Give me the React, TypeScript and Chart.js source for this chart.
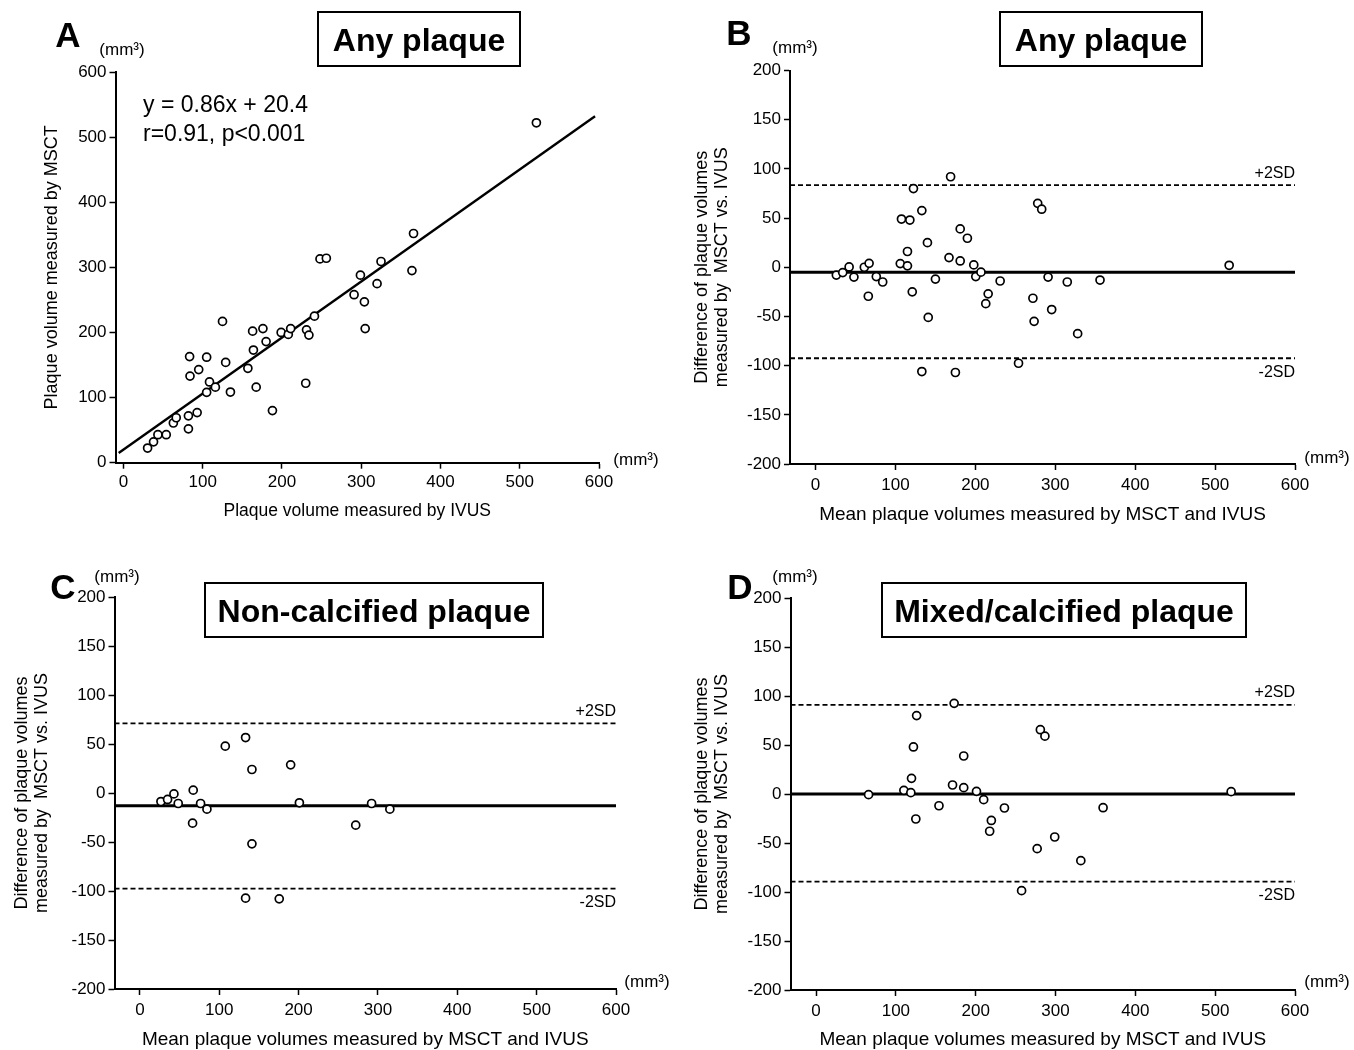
import React, { useEffect, useRef } from "react";
import { Chart, registerables } from "chart.js";

Chart.register(...registerables);

const FAMILY = '"Liberation Sans", Arial, Helvetica, sans-serif';

// ---------- Panel A: MSCT vs IVUS (any plaque) ----------
const ivusA = [30.5, 38, 43.5, 54, 63, 66.6, 82, 82, 84, 83.5, 93, 95, 105, 105, 108.6, 116, 125, 129, 135, 157, 163, 164, 167.5, 176, 180, 188, 199, 208, 211, 230, 231, 234, 241, 248, 256, 291, 299, 304, 305, 320, 325, 364, 366, 521];
const msctA = [22.5, 32, 43, 43, 61, 69, 72, 52, 133, 163, 77, 143, 162, 108, 124, 116, 217, 154, 108.5, 145, 202, 173, 116, 206, 186, 80, 200, 197, 206, 122, 204, 196, 225, 313, 314, 258, 288, 247, 206, 275, 309, 295, 352, 522];
const regressionX = [-6, 595];
const regressionY = [15, 532];
const equationLines = ["y = 0.86x + 20.4", "r=0.91, p<0.001"];

// ---------- Panel B: Bland-Altman, any plaque ----------
const meanB = [26, 34, 42, 48, 61, 67, 66, 76, 84, 106, 107.5, 115, 115, 118, 122.5, 121, 133, 133, 140, 141, 150, 167, 169, 175, 181, 181, 190, 198, 200.5, 207, 216, 213, 231, 254, 272, 273.5, 278, 283, 291, 295.5, 315, 328, 356, 517.6];
const diffB = [-8, -5.4, 0.3, -10, 0, 4, -29.5, -9.5, -15, 3.7, 49, 1.4, 16, 48, 80, -25, 57.6, -106, 25, -51, -12, 9.8, 92, -107, 39, 6.4, 29.5, 2.4, -9.5, -5, -27, -37, -14, -97.6, -31.5, -55, 65, 59, -10, -43, -15, -67.5, -13, 2];
const limitsB = [-5, 83.5, -92.5]; // bias, +2SD, -2SD

// ---------- Panel C: Bland-Altman, non-calcified ----------
const meanC = [26.5, 34.9, 42.9, 48.3, 67.2, 66.4, 76.5, 84.5, 107.6, 133.2, 141.2, 141.2, 133.2, 175.6, 190, 201, 272, 292, 315];
const diffC = [-8.7, -6.6, -0.9, -10.7, 2.9, -30.8, -10.7, -16.5, 47.8, 56.6, 24, -51.9, -107.3, -108, 28.7, -10, -32.8, -10.7, -16.5];
const limitsC = [-13, 71, -97.5];

// ---------- Panel D: Bland-Altman, mixed/calcified ----------
const meanD = [65.8, 110, 118.75, 119.6, 122, 126, 125, 154, 171, 173, 185, 185, 201, 210, 219.6, 217.5, 236, 257.5, 277, 281, 286.7, 299, 331.7, 359.6, 520];
const diffD = [-0.7, 3.7, 1.4, 16, 48, 80, -25.5, -12, 9.2, 92.5, 38.8, 6.5, 2.7, -5.8, -27, -38, -14.3, -98.6, -55.8, 65.6, 59, -43.9, -68, -14, 2.4];
const limitsD = [0, 91, -89.5];

// ---------- Axes ----------
const xTicks = [0, 100, 200, 300, 400, 500, 600];
const yTicksA = [0, 100, 200, 300, 400, 500, 600];
const yTicksDiff = [-200, -150, -100, -50, 0, 50, 100, 150, 200];
const baXRange = [-32, 600];
const baYRange = [-200, 200];
const aXRange = [-10, 600];
const aYRange = [0, 600];
const unitLabel = "(mm³)";

type Box = { x: number; y: number; w: number; h: number };
interface PanelCfg {
  id: string;
  left: number;
  top: number;
  w: number;
  h: number;
  padTop: number;
  padRight: number;
  yWidth: number;
  xHeight: number;
  xRange: number[];
  yRange: number[];
  yTicks: number[];
  xTitle: string;
  xTitleSize: number;
  yTitle: string | string[];
  yTitlePad: number;
  xTitlePad: number;
  xTickPad: number;
  datasets: any[];
  letter: string;
  letterPos: [number, number];
  unitPos: [number, number];
  title: string;
  box: Box;
  axisUnitPos: [number, number];
  limits?: number[];
  equation?: string[];
  eqPos?: [number, number];
}

const pointsDataset = (xs: number[], ys: number[]) => ({
  type: "scatter",
  data: xs.map((x, i) => ({ x, y: ys[i] })),
  pointRadius: 4,
  pointHoverRadius: 4,
  pointBorderWidth: 1.7,
  pointBorderColor: "#000",
  pointBackgroundColor: "#fff",
  showLine: false,
  order: 0,
  clip: false,
});

const lineDataset = (xs: number[], ys: number[], width: number, dash: number[]) => ({
  type: "scatter",
  data: xs.map((x, i) => ({ x, y: ys[i] })),
  showLine: true,
  borderColor: "#000",
  borderWidth: width,
  borderDash: dash,
  pointRadius: 0,
  pointHoverRadius: 0,
  tension: 0,
  order: 1,
  clip: false,
});

const baDatasets = (xs: number[], ys: number[], limits: number[]) => [
  pointsDataset(xs, ys),
  lineDataset(baXRange, [limits[0], limits[0]], 3, []),
  lineDataset(baXRange, [limits[1], limits[1]], 1.8, [5, 3]),
  lineDataset(baXRange, [limits[2], limits[2]], 1.8, [5, 3]),
];

const diffTitle = ["Difference of plaque volumes", "measured by  MSCT vs. IVUS"];
const meanTitle = "Mean plaque volumes measured by MSCT and IVUS";

const panels: PanelCfg[] = [
  {
    id: "A",
    left: 0,
    top: 0,
    w: 677,
    h: 525,
    padTop: 72,
    padRight: 78,
    yWidth: 115.5,
    xHeight: 62.3,
    xRange: aXRange,
    yRange: aYRange,
    yTicks: yTicksA,
    xTitle: "Plaque volume measured by IVUS",
    xTitleSize: 17.5,
    yTitle: "Plaque volume measured by MSCT",
    yTitlePad: 42,
    xTitlePad: 4,
    xTickPad: 3,
    datasets: [pointsDataset(ivusA, msctA), lineDataset(regressionX, regressionY, 2.4, [])],
    letter: "A",
    letterPos: [68, 37],
    unitPos: [122, 50],
    title: "Any plaque",
    box: { x: 318, y: 12, w: 202, h: 54 },
    axisUnitPos: [636, 460],
    equation: equationLines,
    eqPos: [143, 112],
  },
  {
    id: "B",
    left: 677,
    top: 0,
    w: 677,
    h: 525,
    padTop: 70.5,
    padRight: 59,
    yWidth: 113,
    xHeight: 61,
    xRange: baXRange,
    yRange: baYRange,
    yTicks: yTicksDiff,
    xTitle: meanTitle,
    xTitleSize: 19,
    yTitle: diffTitle,
    yTitlePad: 15,
    xTitlePad: 0,
    xTickPad: 5,
    datasets: baDatasets(meanB, diffB, limitsB),
    letter: "B",
    letterPos: [62, 35],
    unitPos: [118, 48],
    title: "Any plaque",
    box: { x: 323, y: 12, w: 202, h: 54 },
    axisUnitPos: [650, 458],
    limits: limitsB,
  },
  {
    id: "C",
    left: 0,
    top: 525,
    w: 677,
    h: 525,
    padTop: 72,
    padRight: 61,
    yWidth: 114.5,
    xHeight: 61,
    xRange: baXRange,
    yRange: baYRange,
    yTicks: yTicksDiff,
    xTitle: meanTitle,
    xTitleSize: 19,
    yTitle: diffTitle,
    yTitlePad: 12,
    xTitlePad: 0,
    xTickPad: 5,
    datasets: baDatasets(meanC, diffC, limitsC),
    letter: "C",
    letterPos: [63, 64],
    unitPos: [117, 52],
    title: "Non-calcified plaque",
    box: { x: 205, y: 58, w: 338, h: 54 },
    axisUnitPos: [647, 457],
    limits: limitsC,
  },
  {
    id: "D",
    left: 677,
    top: 525,
    w: 677,
    h: 525,
    padTop: 73,
    padRight: 59,
    yWidth: 113.5,
    xHeight: 60,
    xRange: baXRange,
    yRange: baYRange,
    yTicks: yTicksDiff,
    xTitle: meanTitle,
    xTitleSize: 19,
    yTitle: diffTitle,
    yTitlePad: 15,
    xTitlePad: 0,
    xTickPad: 5,
    datasets: baDatasets(meanD, diffD, limitsD),
    letter: "D",
    letterPos: [63, 64],
    unitPos: [118, 52],
    title: "Mixed/calcified plaque",
    box: { x: 205, y: 58, w: 364, h: 54 },
    axisUnitPos: [650, 457],
    limits: limitsD,
  },
];

const makeDecor = (cfg: PanelCfg) => ({
  id: "decor" + cfg.id,
  afterDraw(chart: any) {
    const ctx: CanvasRenderingContext2D = chart.ctx;
    ctx.save();
    ctx.fillStyle = "#000";
    ctx.strokeStyle = "#000";
    // panel letter
    ctx.font = `bold 35px ${FAMILY}`;
    ctx.textAlign = "center";
    ctx.textBaseline = "middle";
    ctx.fillText(cfg.letter, cfg.letterPos[0], cfg.letterPos[1]);
    // units
    ctx.font = `17px ${FAMILY}`;
    ctx.fillText(unitLabel, cfg.unitPos[0], cfg.unitPos[1]);
    ctx.fillText(unitLabel, cfg.axisUnitPos[0], cfg.axisUnitPos[1]);
    // title box
    const b = cfg.box;
    ctx.lineWidth = 2;
    ctx.strokeRect(b.x, b.y, b.w, b.h);
    ctx.font = `bold 32px ${FAMILY}`;
    ctx.textBaseline = "alphabetic";
    ctx.fillText(cfg.title, b.x + b.w / 2, b.y + 38.5);
    // SD labels
    if (cfg.limits) {
      const ys = chart.scales.y;
      const right = chart.chartArea.right;
      ctx.font = `16px ${FAMILY}`;
      ctx.textAlign = "right";
      ctx.textBaseline = "middle";
      ctx.fillText("+2SD", right, ys.getPixelForValue(cfg.limits[1]) - 12);
      ctx.fillText("-2SD", right, ys.getPixelForValue(cfg.limits[2]) + 14);
    }
    // regression equation
    if (cfg.equation && cfg.eqPos) {
      ctx.font = `23px ${FAMILY}`;
      ctx.textAlign = "left";
      ctx.textBaseline = "alphabetic";
      cfg.equation.forEach((t, i) => ctx.fillText(t, cfg.eqPos![0], cfg.eqPos![1] + i * 28.5));
    }
    ctx.restore();
  },
});

const gridOpts = {
  display: true,
  drawOnChartArea: false,
  drawTicks: true,
  tickLength: 6,
  tickWidth: 1.5,
  tickColor: "#000",
  color: "#000",
};

function Panel({ cfg }: { cfg: PanelCfg }) {
  const ref = useRef<HTMLCanvasElement | null>(null);
  useEffect(() => {
    if (!ref.current) return;
    const chart = new Chart(ref.current, {
      type: "scatter",
      data: { datasets: cfg.datasets as any },
      options: {
        responsive: false,
        animation: false,
        devicePixelRatio: 1,
        layout: { padding: { left: 0, top: cfg.padTop, right: cfg.padRight, bottom: 0 } },
        plugins: { legend: { display: false }, tooltip: { enabled: false } },
        events: [],
        scales: {
          x: {
            type: "linear",
            min: cfg.xRange[0],
            max: cfg.xRange[1],
            afterBuildTicks: (s: any) => {
              s.ticks = xTicks.map((v) => ({ value: v }));
            },
            afterFit: (s: any) => {
              s.height = cfg.xHeight;
            },
            grid: gridOpts,
            border: { display: true, color: "#000", width: 2 },
            ticks: {
              color: "#000",
              font: { family: FAMILY, size: 17, lineHeight: 1.2 },
              padding: cfg.xTickPad,
              maxRotation: 0,
              autoSkip: false,
              callback: (v: any) => String(v),
            },
            title: {
              display: true,
              text: cfg.xTitle,
              color: "#000",
              font: { family: FAMILY, size: cfg.xTitleSize, lineHeight: 1.1 },
              padding: { top: 0, bottom: cfg.xTitlePad },
            },
          },
          y: {
            type: "linear",
            min: cfg.yRange[0],
            max: cfg.yRange[1],
            afterBuildTicks: (s: any) => {
              s.ticks = cfg.yTicks.map((v) => ({ value: v }));
            },
            afterFit: (s: any) => {
              s.width = cfg.yWidth;
            },
            grid: gridOpts,
            border: { display: true, color: "#000", width: 2 },
            ticks: {
              color: "#000",
              font: { family: FAMILY, size: 17, lineHeight: 1.2 },
              padding: 3,
              autoSkip: false,
              callback: (v: any) => String(v),
            },
            title: {
              display: true,
              text: cfg.yTitle as any,
              color: "#000",
              font: { family: FAMILY, size: 18, lineHeight: 1.1 },
              padding: { top: cfg.yTitlePad, bottom: 0 },
            },
          },
        },
      } as any,
      plugins: [makeDecor(cfg)],
    });
    return () => chart.destroy();
  }, [cfg]);
  return (
    <canvas
      ref={ref}
      width={cfg.w}
      height={cfg.h}
      style={{ position: "absolute", left: cfg.left, top: cfg.top, width: cfg.w, height: cfg.h }}
    />
  );
}

export default function App() {
  return (
    <div style={{ position: "absolute", left: 0, top: 0, width: 1354, height: 1050, background: "#fff", overflow: "hidden" }}>
      {panels.map((p) => (
        <Panel key={p.id} cfg={p} />
      ))}
    </div>
  );
}
